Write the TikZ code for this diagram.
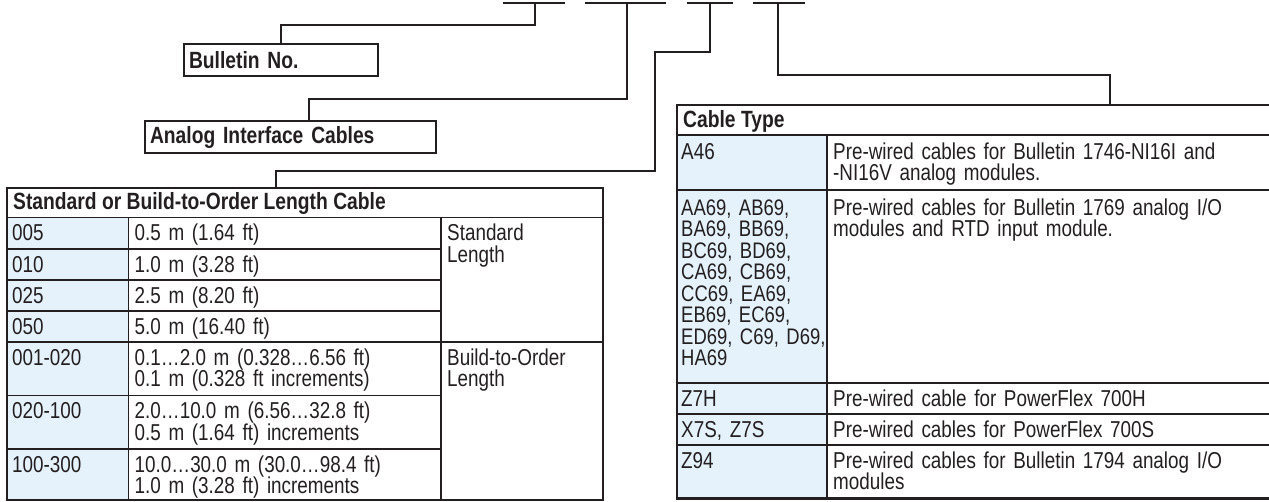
\documentclass[tikz,border=0pt]{standalone}
\usepackage{fontspec}
\setmainfont{Liberation Sans}[FakeStretch=0.82]
\usepackage{tikz}
\usetikzlibrary{positioning, calc}

\definecolor{inkline}{HTML}{231F20}
\definecolor{codeblue}{HTML}{E5F2FC}

\begin{document}
\begin{tikzpicture}[x=1pt, y=-1pt,
    lead/.style={draw=inkline, line width=2pt},
    tabframe/.style={draw=inkline, line width=2.2pt},
    tabrule/.style={draw=inkline, line width=1.1pt},
    headrule/.style={draw=inkline, line width=1.8pt},
    labelbox/.style={draw=inkline, line width=2pt, inner xsep=5pt, inner ysep=0pt, text width=#1, align=left, minimum height=32pt, font=\fontsize{23.5}{23.5}\selectfont\bfseries, text=inkline},
    head/.style={anchor=base west, inner sep=0pt, font=\fontsize{23.5}{23.5}\selectfont\bfseries, text=inkline},
    cell/.style={anchor=base west, inner sep=0pt, text width=#1, align=left, font=\fontsize{23}{21.5}\selectfont, text=inkline},
    cell/.default=150pt]
    \useasboundingbox (0,0) rectangle (1269,501);

    % Catalogue number blanks
    \foreach \a/\b/\m [count=\i] in {503/565/535, 585/666/627, 687/733/710, 753/805/778}{
        \draw[lead] (\a,3) -- (\b,3);
        \coordinate (d\i) at (\m,3);
    }

    % Label boxes
    \node[labelbox=184pt, anchor=north west] (bull) at (183,43) {Bulletin No.};
    \node[labelbox=281pt, anchor=north west] (ana) at (144,120) {Analog Interface Cables};

    % Left table
    \fill[codeblue] (6,217.5) rectangle (128.5,499);
    \node[tabframe, inner sep=0pt, minimum width=596pt, minimum height=312pt, anchor=north west] (ltab) at (6,187) {};
    \draw[headrule] (ltab.west |- 0,217.5) -- (ltab.east |- 0,217.5);
    \foreach \y in {249, 280, 311, 395.5, 449}
        \draw[tabrule] (6,\y) -- (441,\y);
    \draw[tabrule] (6,342) -- (602,342);
    \draw[tabrule] (128.5,217.5) -- (128.5,499);
    \draw[tabrule] (441,217.5) -- (441,499);

    \node[head] (lthead) at (13,209.5) {Standard or Build-to-Order Length Cable};
    \node[cell] (c005) at (12,240.5) {005};
    \node[cell=300pt] (v005) at (134.5,240.5) {0.5 m (1.64 ft)};
    \node[cell] (c010) at (12,272) {010};
    \node[cell=300pt] (v010) at (134.5,272) {1.0 m (3.28 ft)};
    \node[cell] (c025) at (12,303) {025};
    \node[cell=300pt] (v025) at (134.5,303) {2.5 m (8.20 ft)};
    \node[cell] (c050) at (12,334) {050};
    \node[cell=300pt] (v050) at (134.5,334) {5.0 m (16.40 ft)};
    \node[cell] (c001) at (12,365) {001-020};
    \node[cell=300pt] (v001) at (134.5,365) {0.1…2.0 m (0.328…6.56 ft)\\0.1 m (0.328 ft increments)};
    \node[cell] (c020) at (12,418.5) {020-100};
    \node[cell=300pt] (v020) at (134.5,418.5) {2.0…10.0 m (6.56…32.8 ft)\\0.5 m (1.64 ft) increments};
    \node[cell] (c100) at (12,472) {100-300};
    \node[cell=300pt] (v100) at (134.5,472) {10.0…30.0 m (30.0…98.4 ft)\\1.0 m (3.28 ft) increments};
    \node[cell] (std) at (447,240.5) {Standard\\Length};
    \node[cell] (bto) at (447,365) {Build-to-Order\\Length};

    % Right table
    \fill[codeblue] (677,135) rectangle (827,498);
    \node[inner sep=0pt, minimum width=592pt, minimum height=393pt, anchor=north west] (rtab) at (677,105) {};
    \draw[tabframe] (rtab.north east) -- (rtab.north west) -- (rtab.south west) -- (rtab.south east);
    \draw[headrule] (677,135) -- (1269,135);
    \foreach \y in {190, 383, 414, 445}
        \draw[tabrule] (677,\y) -- (1269,\y);
    \draw[tabrule] (827,135) -- (827,498);

    \node[head] (rthead) at (683,127.5) {Cable Type};
    \node[cell] (a46) at (681,159) {A46};
    \node[cell=420pt] (a46d) at (833,159) {Pre-wired cables for Bulletin 1746-NI16I and\\-NI16V analog modules.};
    \node[cell, font=\fontsize{22.5}{21.5}\selectfont] (aa69) at (681,215) {AA69, AB69,\\BA69, BB69,\\BC69, BD69,\\CA69, CB69,\\CC69, EA69,\\EB69, EC69,\\ED69, C69, D69,\\HA69};
    \node[cell=420pt] (aa69d) at (833,215) {Pre-wired cables for Bulletin 1769 analog I/O\\modules and RTD input module.};
    \node[cell] (z7h) at (681,406) {Z7H};
    \node[cell=420pt] (z7hd) at (833,406) {Pre-wired cable for PowerFlex 700H};
    \node[cell] (x7s) at (681,437) {X7S, Z7S};
    \node[cell=420pt] (x7sd) at (833,437) {Pre-wired cables for PowerFlex 700S};
    \node[cell] (z94) at (681,468) {Z94};
    \node[cell=420pt] (z94d) at (833,468) {Pre-wired cables for Bulletin 1794 analog I/O\\modules};

    % Connectors
    \draw[lead] (d1) -- ++(0,22) -| (bull.north);
    \draw[lead] (d2) -- ++(0,96) -| ([xshift=18.5pt]ana.north);
    \draw[lead] (d3) -- ++(0,49) -| ++(-55,119) -| ([xshift=-29pt]ltab.north);
    \draw[lead] (d4) -- ++(0,72) -| ([xshift=137pt]rtab.north);
\end{tikzpicture}
\end{document}
